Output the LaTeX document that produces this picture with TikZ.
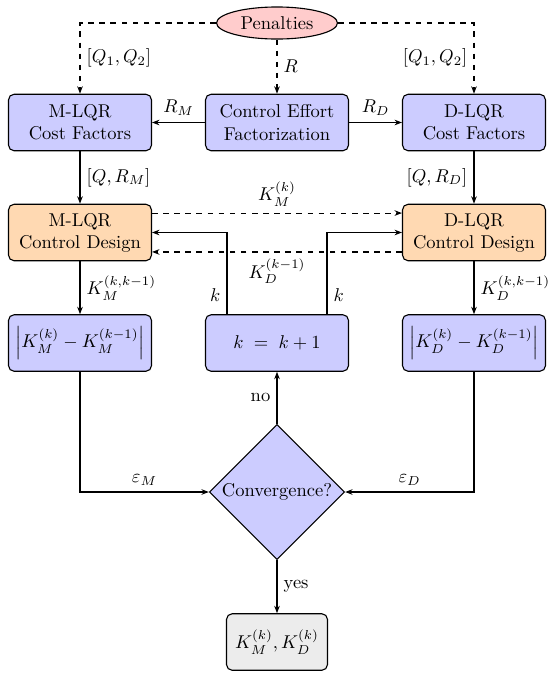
\documentclass[tikz,border=0pt]{standalone}
\usetikzlibrary{shapes.geometric,arrows.meta}
\begin{document}
\begin{tikzpicture}[x=0.54pt,y=-0.54pt,
  box/.style={draw,semithick,rounded corners=3pt,align=center,minimum width=77.2pt,minimum height=30.5pt,inner sep=2pt},
  costbox/.style={box,fill=blue!20},
  designbox/.style={box,fill=orange!30},
  resbox/.style={box,fill=gray!15,minimum width=54.5pt},
  penalty/.style={ellipse,draw,semithick,fill=red!20,minimum width=65.3pt,minimum height=17.3pt,inner sep=1pt},
  decision/.style={diamond,draw,semithick,fill=blue!20,aspect=1,minimum size=73pt,inner sep=0pt},
  conn/.style={semithick,-{Stealth[length=4pt,width=3pt]}},
  dconn/.style={conn,dashed}
]
\useasboundingbox (0,0) rectangle (548,673);
\node[penalty] (pen) at (277,23) {Penalties};
\node[costbox] (mcost) at (80,122.5) {M-LQR\\Cost Factors};
\node[costbox] (ctrl) at (277,122.5) {Control Effort\\Factorization};
\node[costbox] (dcost) at (474,122.5) {D-LQR\\Cost Factors};
\node[designbox] (mdes) at (80,232.5) {M-LQR\\Control Design};
\node[designbox] (ddes) at (474,232.5) {D-LQR\\Control Design};
\node[costbox] (mdiff) at (80,343) {$\left|K_M^{(k)}-K_M^{(k-1)}\right|$};
\node[costbox] (kinc) at (277,343) {$k\;=\;k+1$};
\node[costbox] (ddiff) at (474,343) {$\left|K_D^{(k)}-K_D^{(k-1)}\right|$};
\node[decision] (conv) at (277,492) {Convergence?};
\node[resbox] (res) at (277,642) {$K_M^{(k)},K_D^{(k)}$};

\draw[dconn] (pen.west) -| node[pos=0.75,right] {$[Q_1,Q_2]$} (mcost.north);
\draw[dconn] (pen.east) -| node[pos=0.75,left] {$[Q_1,Q_2]$} (dcost.north);
\draw[dconn] (pen.south) -- node[right] {$R$} (ctrl.north);
\draw[conn] (ctrl.west) -- node[above] {$R_M$} (mcost.east);
\draw[conn] (ctrl.east) -- node[above] {$R_D$} (dcost.west);
\draw[conn] (mcost.south) -- node[right] {$[Q,R_M]$} (mdes.north);
\draw[conn] (dcost.south) -- node[left] {$[Q,R_D]$} (ddes.north);
\draw[dconn] ([yshift=10.5pt]mdes.east) -- node[above] {$K_M^{(k)}$} ([yshift=10.5pt]ddes.west);
\draw[dconn] ([yshift=-10.5pt]ddes.west) -- node[below] {$K_D^{(k-1)}$} ([yshift=-10.5pt]mdes.east);
\draw[conn] ([xshift=-27pt]kinc.north) |- node[pos=0.12,left] {$k$} (mdes.east);
\draw[conn] ([xshift=27pt]kinc.north) |- node[pos=0.12,right] {$k$} (ddes.west);
\draw[conn] (mdes.south) -- node[right] {$K_M^{(k,k-1)}$} (mdiff.north);
\draw[conn] (ddes.south) -- node[right] {$K_D^{(k,k-1)}$} (ddiff.north);
\draw[conn] (mdiff.south) |- node[pos=0.75,above] {$\varepsilon_M$} (conv.west);
\draw[conn] (ddiff.south) |- node[pos=0.75,above] {$\varepsilon_D$} (conv.east);
\draw[conn] (conv.north) -- node[left] {no} (kinc.south);
\draw[conn] (conv.south) -- node[right] {yes} (res.north);
\end{tikzpicture}
\end{document}
